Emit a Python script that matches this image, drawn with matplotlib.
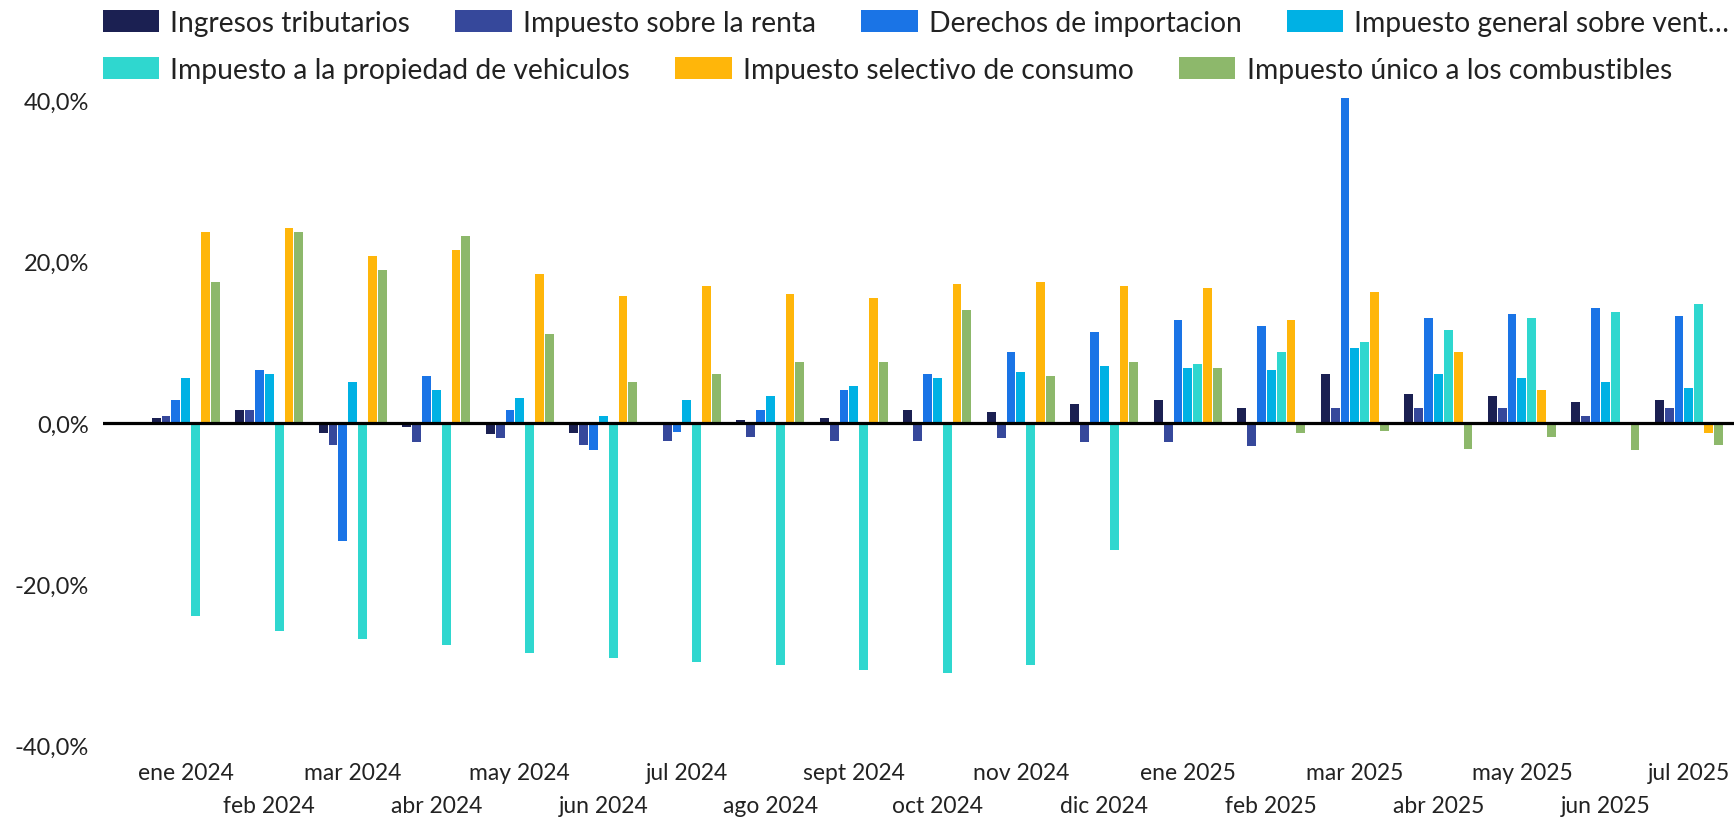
import numpy as np
import matplotlib
matplotlib.use("Agg")
import matplotlib.pyplot as plt
from matplotlib.patches import Patch

plt.rcParams['font.family'] = ['Lato', 'DejaVu Sans']

months = ["ene 2024", "feb 2024", "mar 2024", "abr 2024", "may 2024", "jun 2024",
          "jul 2024", "ago 2024", "sept 2024", "oct 2024", "nov 2024", "dic 2024",
          "ene 2025", "feb 2025", "mar 2025", "abr 2025", "may 2025", "jun 2025",
          "jul 2025"]

series_names = ["Ingresos tributarios", "Impuesto sobre la renta", "Derechos de importacion",
                "Impuesto general sobre vent\u2026", "Impuesto a la propiedad de vehiculos",
                "Impuesto selectivo de consumo", "Impuesto \u00fanico a los combustibles"]

ingresos = [0.6, 1.6, -1.2, -0.5, -1.4, -1.2, 0.0, 0.4, 0.6, 1.6, 1.4, 2.4,
            2.9, 1.9, 6.1, 3.6, 3.4, 2.6, 2.9]
renta = [0.9, 1.6, -2.7, -2.4, -1.9, -2.7, -2.2, -1.7, -2.2, -2.2, -1.9, -2.4,
         -2.4, -2.9, 1.9, 1.9, 1.9, 0.9, 1.9]
derechos = [2.9, 6.6, -14.6, 5.8, 1.6, -3.4, -1.1, 1.6, 4.1, 6.1, 8.8, 11.3,
            12.8, 12.0, 40.3, 13.0, 13.5, 14.3, 13.3]
igv = [5.6, 6.1, 5.1, 4.1, 3.1, 0.9, 2.9, 3.4, 4.6, 5.6, 6.3, 7.1,
       6.8, 6.6, 9.3, 6.1, 5.6, 5.1, 4.3]
vehiculos = [-24.0, -25.8, -26.8, -27.5, -28.5, -29.2, -29.7, -30.0, -30.7, -31.0, -30.0, -15.8,
             7.3, 8.8, 10.0, 11.5, 13.0, 13.8, 14.8]
selectivo = [23.7, 24.2, 20.7, 21.5, 18.5, 15.8, 17.0, 16.0, 15.5, 17.2, 17.5, 17.0,
             16.8, 12.8, 16.3, 8.8, 4.1, 0.0, -1.2]
combustibles = [17.5, 23.7, 19.0, 23.2, 11.0, 5.1, 6.1, 7.6, 7.6, 14.0, 5.8, 7.6,
                6.8, -1.2, -1.0, -3.2, -1.7, -3.4, -2.7]

colors = ["#1b2052", "#36489b", "#1a74e6", "#00b1e4", "#2fd7cf", "#ffb60a", "#8db86b"]

data = [ingresos, renta, derechos, igv, vehiculos, selectivo, combustibles]

fig = plt.figure(figsize=(17.34, 8.2), dpi=100)
ax = fig.add_axes([0.0593, 0.0897, 0.9407, 0.7913])

x = np.arange(len(months))
pitch = 0.118
for k, (vals, c) in enumerate(zip(data, colors)):
    ax.bar(x + (k - 3) * pitch, vals, width=0.106, color=c, zorder=2)

ax.axhline(0, color="black", lw=2.3, zorder=3)
ax.set_xlim(-0.993, 18.54)
ax.set_ylim(-40, 40.5)

for s in ax.spines.values():
    s.set_visible(False)
ax.set_yticks([-40, -20, 0, 20, 40])
ax.set_yticklabels(["-40,0%", "-20,0%", "0,0%", "20,0%", "40,0%"])
ax.tick_params(axis="y", length=0, labelsize=17, labelcolor="#222222", pad=10)
ax.set_xticks([])

for i, m in enumerate(months):
    ypos = -0.042 if i % 2 == 0 else -0.092
    ax.text(i, ypos, m, transform=ax.get_xaxis_transform(), ha="center", va="center",
            fontsize=16.5, color="#222222")

handles = [Patch(facecolor=c) for c in colors]
leg_kw = dict(frameon=False, fontsize=20.3, handlelength=2.0, handleheight=0.85,
              handletextpad=0.4, columnspacing=1.6, borderaxespad=0, borderpad=0)
leg1 = fig.legend(handles[:4], series_names[:4], ncol=4, loc="center left",
                  bbox_to_anchor=(0.0593, 0.971), **leg_kw)
leg2 = fig.legend(handles[4:], series_names[4:], ncol=3, loc="center left",
                  bbox_to_anchor=(0.0593, 0.914), **leg_kw)
for leg in (leg1, leg2):
    for t in leg.get_texts():
        t.set_color("#222222")

fig.savefig("out.png", dpi=100)
